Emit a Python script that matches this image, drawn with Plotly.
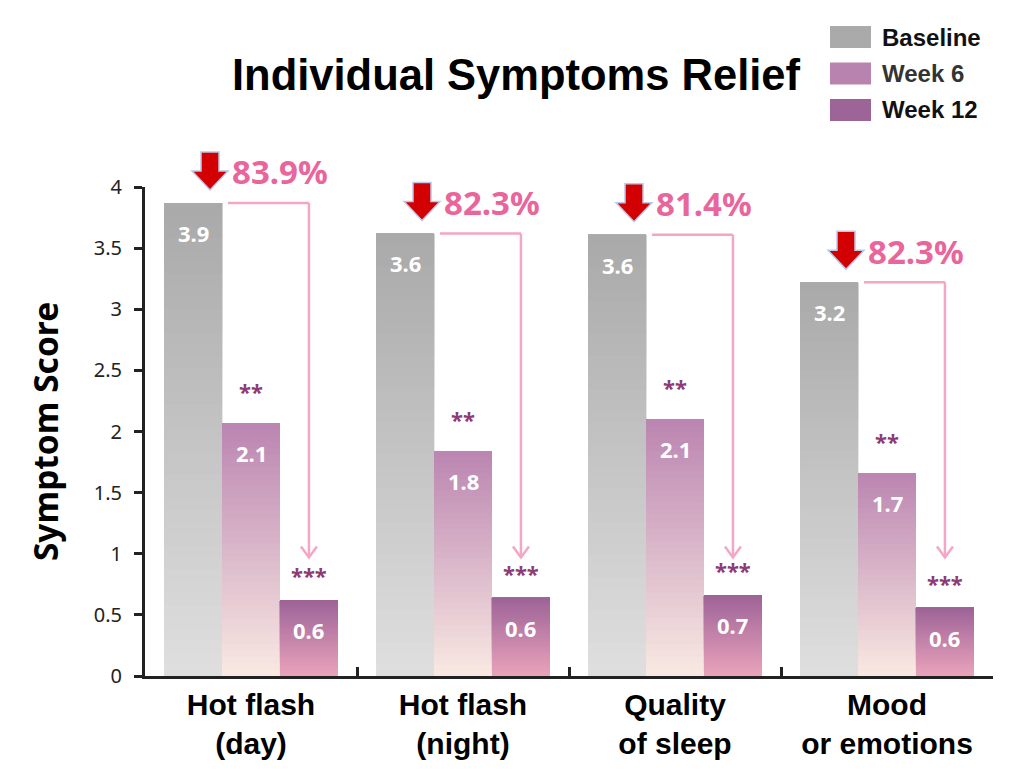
import plotly.graph_objects as go

categories = ["Hot flash<br>(day)", "Hot flash<br>(night)", "Quality<br>of sleep", "Mood<br>or emotions"]
series_names = ["Baseline", "Week 6", "Week 12"]
baseline = [3.87, 3.62, 3.61, 3.22]
week6 = [2.07, 1.84, 2.10, 1.66]
week12 = [0.62, 0.64, 0.66, 0.56]
baseline_labels = ["3.9", "3.6", "3.6", "3.2"]
week6_labels = ["2.1", "1.8", "2.1", "1.7"]
week12_labels = ["0.6", "0.6", "0.7", "0.6"]
week6_sig = ["**", "**", "**", "**"]
week12_sig = ["***", "***", "***", "***"]
reduction_labels = ["83.9%", "82.3%", "81.4%", "82.3%"]
y_ticks = [0, 0.5, 1, 1.5, 2, 2.5, 3, 3.5, 4]
Y_MAX = 4

series_values = [baseline, week6, week12]
series_labels = [baseline_labels, week6_labels, week12_labels]
# gradient colours (top, bottom)
grad = [((169, 169, 169), (223, 223, 223)),
        ((187, 133, 177), (249, 233, 226)),
        ((157, 99, 151), (234, 163, 187))]
legend_colors = ["#aaaaaa", "#b983b0", "#9c6497"]
legend_text_colors = ["#111111", "#333333", "#111111"]

BARGAP = 0.18
W = (1 - BARGAP) / 3  # width of one bar in category units
offsets = [-W, 0, W]
N = 40
NCAT = len(categories)

def mix(c1, c2, t):
    return "rgb(%d,%d,%d)" % tuple(round(a + (b - a) * t) for a, b in zip(c1, c2))

def paper_x(c):
    # category-index position -> paper fraction (axis range -0.5 .. NCAT-0.5)
    return (c + 0.5) / NCAT

fig = go.Figure()
for s, vals in enumerate(series_values):
    top, bot = grad[s]
    for k in range(N):
        t = (k + 0.5) / N  # 0 bottom -> 1 top
        fig.add_trace(go.Bar(
            x=categories,
            y=[v * (N - k) / N for v in vals],
            base=[v * k / N for v in vals],
            offsetgroup=str(s),
            marker=dict(color=mix(bot, top, t), line=dict(width=0)),
            showlegend=False,
            hoverinfo="skip",
        ))

ann = []
shapes = []
pink = "#f4a6c5"
for i in range(NCAT):
    for s in range(3):
        ann.append(dict(x=i + offsets[s], y=series_values[s][i], xref="x", yref="y",
                        text=series_labels[s][i], showarrow=False, yshift=-30,
                        font=dict(family="Noto Sans", size=22, color="white", weight="bold")))
    ann.append(dict(x=i + offsets[1], y=week6[i], text=week6_sig[i], showarrow=False,
                    yanchor="bottom", yshift=15,
                    font=dict(family="Noto Sans", size=22, color="#8e3a74", weight="bold")))
    ann.append(dict(x=i + offsets[2], y=week12[i], text=week12_sig[i], showarrow=False,
                    yanchor="bottom", yshift=8,
                    font=dict(family="Noto Sans", size=22, color="#8e3a74", weight="bold")))
    ann.append(dict(x=i + offsets[0] + W / 2, y=baseline[i], text=reduction_labels[i],
                    showarrow=False, xanchor="left", yanchor="middle", xshift=8, yshift=31,
                    font=dict(family="Noto Sans", size=33, color="#e8669b", weight="bold")))
    # red block arrow (paper refs so it is not clipped by the plot area)
    shapes.append(dict(type="path", xref="paper", yref="paper",
                       xsizemode="pixel", ysizemode="pixel",
                       xanchor=paper_x(i + offsets[0] + 0.08), yanchor=baseline[i] / Y_MAX,
                       path="M -9,51 L 9,51 L 9,32 L 18,32 L 0,13 L -18,32 L -9,32 Z",
                       fillcolor="#d20000", line=dict(color="#b9c9ea", width=1.5)))
    x_start = i + offsets[0] + W / 2 + 0.028
    x_end = i + offsets[2]
    tip_y = 0.97
    shapes.append(dict(type="line", xref="x", yref="y", x0=x_start, x1=x_end,
                       y0=baseline[i], y1=baseline[i], line=dict(color=pink, width=2.5)))
    shapes.append(dict(type="line", xref="x", yref="y", x0=x_end, x1=x_end,
                       y0=baseline[i], y1=tip_y, line=dict(color=pink, width=2.5)))
    shapes.append(dict(type="path", xref="x", yref="y",
                       xsizemode="pixel", ysizemode="pixel",
                       xanchor=x_end, yanchor=tip_y,
                       path="M -8,11 L 0,0 L 8,11",
                       line=dict(color=pink, width=2.5)))

# manual legend (paper coordinates; plot area is 848 x 489 px)
px_h = 489.0
px_w = 848.0
for s, name in enumerate(series_names):
    top_px = 26 + 36.5 * s
    y1 = (676 - top_px) / px_h
    y0 = (676 - top_px - 22) / px_h
    shapes.append(dict(type="rect", xref="paper", yref="paper",
                       x0=(830 - 145) / px_w, x1=(871 - 145) / px_w, y0=y0, y1=y1,
                       fillcolor=legend_colors[s], line=dict(width=0)))
    ann.append(dict(xref="paper", yref="paper", x=(880 - 145) / px_w, y=(y0 + y1) / 2,
                    xanchor="left", yanchor="middle", text=name, showarrow=False,
                    font=dict(family="Liberation Sans", size=24, color=legend_text_colors[s],
                              weight="bold")))

fig.update_layout(
    width=1016, height=771,
    margin=dict(l=137, r=31, t=179, b=103),
    paper_bgcolor="white", plot_bgcolor="white",
    barmode="group", bargap=BARGAP, bargroupgap=0,
    showlegend=False,
    title=dict(text="<b>Individual Symptoms Relief</b>", xref="container", yref="container",
               x=0.5, y=0.913, xanchor="center", yanchor="middle",
               font=dict(family="Liberation Sans", size=43.5, color="black")),
    annotations=ann,
    shapes=shapes,
)
fig.update_xaxes(
    automargin=False,
    showline=True, linecolor="#222222", linewidth=3,
    ticks="inside", tickson="boundaries", ticklen=9, tickwidth=2.5, tickcolor="#222222",
    showgrid=False, zeroline=False,
    tickfont=dict(family="Liberation Sans", size=30, color="black", weight="bold"),
)
fig.update_yaxes(
    automargin=False,
    range=[0, Y_MAX], tickvals=y_ticks,
    showline=True, linecolor="#222222", linewidth=3,
    ticks="outside", ticklen=8, tickwidth=2.5, tickcolor="#222222",
    ticklabelstandoff=8,
    showgrid=False, zeroline=False,
    tickfont=dict(family="Noto Sans", size=20, color="#222222"),
    title=dict(text="Symptom Score", standoff=26,
               font=dict(family="Noto Sans", size=33.5, color="black", weight="bold")),
)

fig.write_html("out.html")
